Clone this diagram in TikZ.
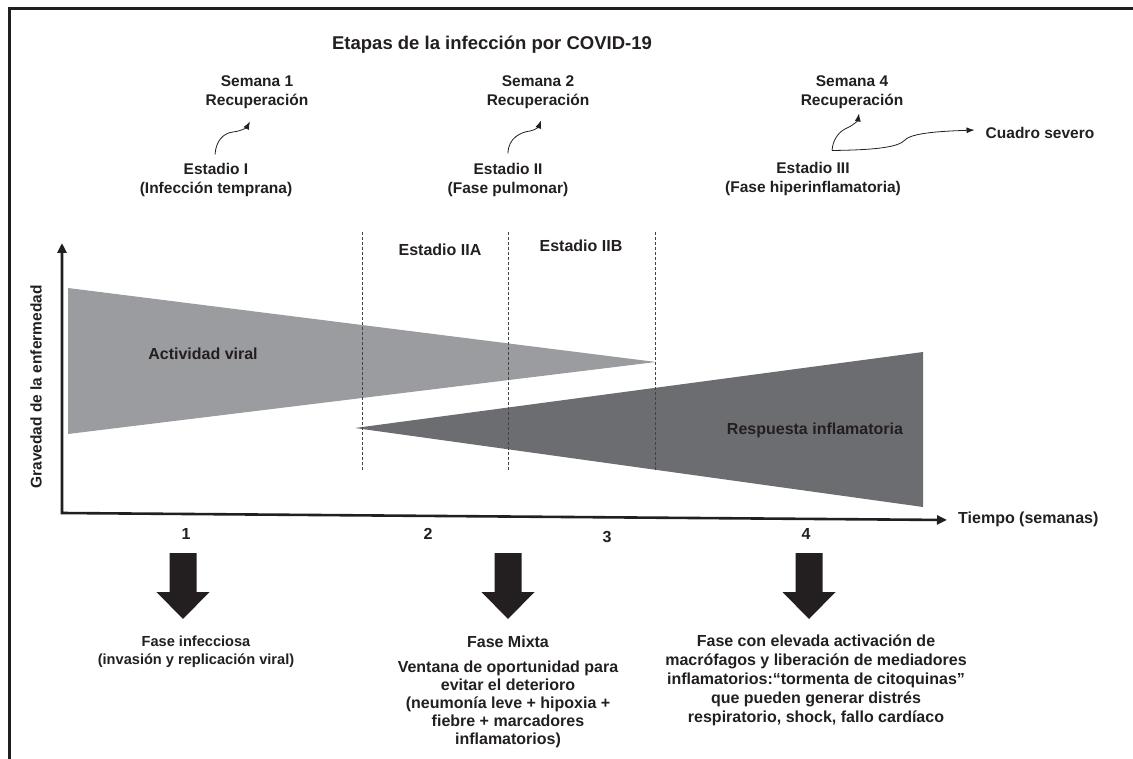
\documentclass[tikz,border=0pt]{standalone}
\usepackage{fontspec}
\setmainfont{Liberation Sans}
\usepackage{xcolor}
\usetikzlibrary{arrows.meta}
\definecolor{tinta}{RGB}{35,31,32}
\definecolor{viral}{RGB}{155,156,160}
\definecolor{inflam}{RGB}{108,109,113}
\tikzset{%
    lbl/.style   = {font=\fontsize{15.5}{19}\selectfont\bfseries, text=tinta, align=center, inner sep=0pt},
    big/.style   = {font=\fontsize{16}{19}\selectfont\bfseries, text=tinta, align=center, inner sep=0pt},
    curva/.style = {tinta, line width=.8pt, -{Latex[length=8pt,width=6pt]}},
    eje/.style   = {tinta, line width=2.6pt, {Triangle[length=10pt,width=9pt]}-{Triangle[length=10pt,width=9pt]}},
    corte/.style = {tinta!85, line width=.6pt, dash pattern=on 3pt off 2pt}
}

\begin{document}
\begin{tikzpicture}[x=1pt,y=-1pt]
            \useasboundingbox (0,0) rectangle (1133,759);
            \draw[tinta, line width=3pt] (9,759) -- (9,9) -- (1133,9);

            \node[lbl, font=\fontsize{18.5}{22}\selectfont\bfseries] (titulo) at (492,45) {Etapas de la infección por COVID-19};

            \node[lbl, anchor=north] (s1) at (257,75) {Semana 1\\Recuperación};
            \node[lbl, anchor=north] (s2) at (538,75) {Semana 2\\Recuperación};
            \node[lbl, anchor=north] (s4) at (852,75) {Semana 4\\Recuperación};
            \node[lbl, anchor=north] (e1) at (216,163.5) {Estadio I\\(Infección temprana)};
            \node[lbl, anchor=north] (e2) at (508,163.5) {Estadio II\\(Fase pulmonar)};
            \node[lbl, anchor=north] (e3) at (813,162.5) {Estadio III\\(Fase hiperinflamatoria)};
            \node[lbl] (cs) at (1040,133) {Cuadro severo};

            \draw[curva] ([xshift=-1pt,yshift=9pt]e1.north) .. controls (216,140) and (224,133) .. (233,132)
                         .. controls (242,131) and (247,127) .. ([xshift=-7pt,yshift=-13pt]s1.south);
            \draw[curva] ([yshift=10pt]e2.north) .. controls (508,138) and (521,132) .. (530,131)
                         .. controls (536,130) and (539,126) .. ([xshift=3pt,yshift=-12pt]s2.south);
            \draw[curva] ([xshift=19pt,yshift=12pt]e3.north) .. controls (833,138) and (840,131) .. (847,128)
                         .. controls (854,125) and (858,120) .. ([xshift=7pt,yshift=-5pt]s4.south);
            \draw[curva] ([xshift=19pt,yshift=12pt]e3.north) .. controls (870,150) and (898,148) .. (905,140)
                         .. controls (912,132) and (950,131) .. ([xshift=-11pt,yshift=3pt]cs.west);

            \fill[viral] (68,288) -- (656,362) -- (68,434) -- cycle;
            \fill[inflam] (355,428) -- (923,352) -- (923,507) -- cycle;
            \foreach \x in {362,508,655}
                \draw[corte] (\x,232) -- (\x,470);

            \coordinate (o) at (62,513);
            \coordinate (yfin) at (62,243);
            \coordinate (xfin) at (947,520);
            \draw[eje] (yfin) -- (o) -- (xfin);

            \node[big] (iia) at (440,250) {Estadio IIA};
            \node[big] (iib) at (581,246) {Estadio IIB};
            \node[big] (av) at (203,354) {Actividad viral};
            \node[big] (ri) at (815,430) {Respuesta inflamatoria};
            \node[lbl, rotate=90] (grav) at (36,387) {Gravedad de la enfermedad};
            \node[big, anchor=west] (tiempo) at (958,519) {Tiempo (semanas)};

            \node[big] (t1) at (186,534) {1};
            \node[big] (t2) at (428,534) {2};
            \node[big] (t3) at (607,537) {3};
            \node[big] (t4) at (806,534) {4};

            \foreach \c in {183,508,809}
                \fill[tinta] (\c-13.5,553) -- (\c+13.5,553) -- (\c+13.5,592) -- (\c+26.5,592)
                             -- (\c,619) -- (\c-26.5,592) -- (\c-13.5,592) -- cycle;

            \node[lbl, anchor=north, font=\fontsize{14.6}{17.5}\selectfont\bfseries] (f1) at (196,636)
                {Fase infecciosa\\(invasión y replicación viral)};
            \node[big, anchor=north, font=\fontsize{16}{18}\selectfont\bfseries] (f2) at (508,636)
                {Fase Mixta\\[7pt]Ventana de oportunidad para\\evitar el deterioro\\(neumonía leve + hipoxia +\\fiebre + marcadores\\inflamatorios)};
            \node[big, anchor=north] (f3) at (816,635)
                {Fase con elevada activación de\\macrófagos y liberación de mediadores\\inflamatorios:“tormenta de citoquinas”\\que pueden generar distrés\\respiratorio, shock, fallo cardíaco};
          \end{tikzpicture}
\end{document}
